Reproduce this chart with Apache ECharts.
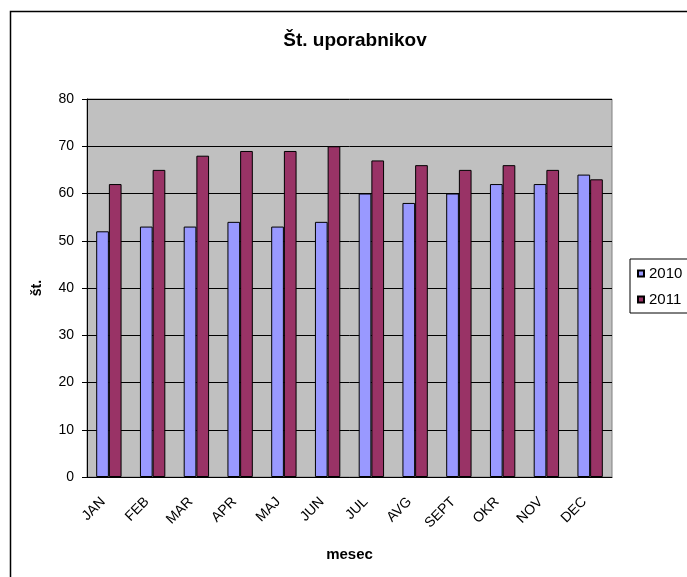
<!DOCTYPE html>
<html>
<head>
<meta charset="utf-8">
<script src="https://cdn.jsdelivr.net/npm/echarts@6/dist/echarts.min.js"></script>
<style>
html, body { margin: 0; padding: 0; background: #fff; }
#chart { width: 687px; height: 577px; }
</style>
</head>
<body>
<div id="chart"></div>
<script>
var meseci = ['JAN', 'FEB', 'MAR', 'APR', 'MAJ', 'JUN', 'JUL', 'AVG', 'SEPT', 'OKR', 'NOV', 'DEC'];
var leto2010 = [52, 53, 53, 54, 53, 54, 60, 58, 60, 62, 62, 64];
var leto2011 = [62, 65, 68, 69, 69, 70, 67, 66, 65, 66, 65, 63];
var font = 'Arial, "Liberation Sans", sans-serif';

var chart = echarts.init(document.getElementById('chart'));

var option = {
    backgroundColor: '#fff',
    animation: false,
    textStyle: { fontFamily: font, color: '#000' },
    title: {
        text: 'Št. uporabnikov',
        left: 350,
        textAlign: 'center',
        top: 26,
        textStyle: { fontFamily: font, fontSize: 19, fontWeight: 'bold', color: '#000' }
    },
    // okvir grafikona
    graphic: [{
        type: 'rect',
        shape: { x: 10.5, y: 11.5, width: 700, height: 600 },
        style: { fill: 'none', stroke: '#000', lineWidth: 1.5 },
        silent: true
    }],
    legend: {
        orient: 'vertical',
        left: 630,
        top: 259,
        padding: [7, 12, 6, 7],
        itemGap: 11,
        itemWidth: 6,
        itemHeight: 6,
        icon: 'rect',
        borderColor: '#000',
        borderWidth: 1,
        textStyle: { fontFamily: font, fontSize: 15, color: '#000', padding: [0, 0, 0, 0] },
        data: ['2010', '2011']
    },
    grid: {
        left: 87,
        top: 99,
        right: 75,
        bottom: 100,
        show: true,
        backgroundColor: '#c0c0c0',
        borderColor: '#808080',
        borderWidth: 1
    },
    xAxis: {
        type: 'category',
        data: meseci,
        name: 'mesec',
        nameLocation: 'middle',
        nameGap: 70,
        nameTextStyle: { fontFamily: font, fontSize: 15, fontWeight: 'bold', color: '#000' },
        axisLine: { lineStyle: { color: '#000', width: 1 } },
        axisTick: { length: 5, lineStyle: { color: '#000' } },
        axisLabel: { rotate: 45, margin: 17, padding: [0, 8, 0, 0], fontSize: 14, color: '#000', fontFamily: font }
    },
    yAxis: {
        type: 'value',
        min: 0,
        max: 80,
        interval: 10,
        name: 'št.',
        nameLocation: 'middle',
        nameGap: 43,
        nameTextStyle: { fontFamily: font, fontSize: 14, fontWeight: 'bold', color: '#000' },
        axisLine: { show: true, lineStyle: { color: '#000', width: 1 } },
        axisTick: { show: true, length: 5, lineStyle: { color: '#000' } },
        axisLabel: { fontSize: 14, color: '#000', margin: 13, fontFamily: font },
        splitLine: { lineStyle: { color: '#000', width: 1 } }
    },
    series: [
        {
            name: '2010',
            type: 'bar',
            data: leto2010,
            barGap: '0%',
            barCategoryGap: '42%',
            itemStyle: { color: '#9999ff', borderColor: '#000', borderWidth: 1 }
        },
        {
            name: '2011',
            type: 'bar',
            data: leto2011,
            barGap: '0%',
            barCategoryGap: '42%',
            itemStyle: { color: '#993366', borderColor: '#000', borderWidth: 1 }
        }
    ]
};

chart.setOption(option);
</script>
</body>
</html>
